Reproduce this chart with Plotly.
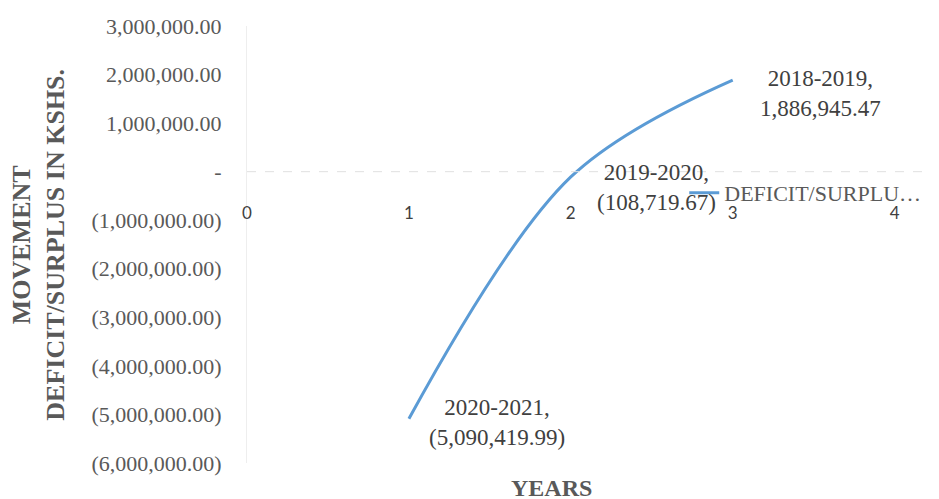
import plotly.graph_objects as go

# ---- data ----
x_vals = [1, 2, 3]
periods = ["2020-2021", "2019-2020", "2018-2019"]
values = [-5090419.99, -108719.67, 1886945.47]
series_name = "DEFICIT/SURPLU…"

y_tickvals = [3000000, 2000000, 1000000, 0, -1000000, -2000000, -3000000,
              -4000000, -5000000, -6000000]
x_tickvals = [0, 1, 2, 3, 4]


def acct(v):
    if v == 0:
        return "-"
    s = f"{abs(v):,.2f}"
    return f"({s})" if v < 0 else s


y_ticktext = [acct(v) for v in y_tickvals]

SERIF = "Liberation Serif"
TXT = "#404040"
GREY = "#595959"
BLUE = "#5b9bd5"

fig = go.Figure()
fig.add_trace(go.Scatter(
    x=x_vals, y=values, mode="lines", name=series_name,
    line=dict(color=BLUE, width=3, shape="spline", smoothing=1.0),
    hoverinfo="skip",
))

# data labels
shifts = [(88, -4), (86, -11), (88, -13)]
for xv, p, v, (dx, dy) in zip(x_vals, periods, values, shifts):
    fig.add_annotation(
        x=xv, y=v, xref="x", yref="y", text=f"{p},<br>{acct(v)}",
        showarrow=False, xshift=dx, yshift=dy, xanchor="center", yanchor="middle",
        font=dict(family=SERIF, size=23, color=TXT), align="center",
    )

# dashed zero line
fig.add_shape(type="line", xref="paper", yref="y", x0=0, x1=1, y0=0, y1=0,
              line=dict(color="#e0e0e0", width=1, dash="dash"))

ymin, ymax = -6000000, 3000000
zero_pos = (0 - ymin) / (ymax - ymin)

fig.update_layout(
    width=939, height=499,
    margin=dict(l=247, r=12, t=26, b=36, autoexpand=False),
    paper_bgcolor="white", plot_bgcolor="white",
    showlegend=True,
    legend=dict(x=0.643, y=0.618, xanchor="left", yanchor="middle",
                bgcolor="rgba(0,0,0,0)",
                font=dict(family=SERIF, size=22, color=GREY)),
    xaxis=dict(range=[0, 4.2], tickvals=x_tickvals, showgrid=False, zeroline=False,
               showline=False, anchor="free", position=zero_pos,
               ticks="", ticklabelstandoff=29,
               tickfont=dict(family="Lato", size=17, color=TXT)),
    yaxis=dict(range=[ymin, ymax], tickvals=y_tickvals, ticktext=y_ticktext,
               showgrid=False, zeroline=False, showline=True, linecolor="#eeeeee",
               linewidth=1, ticks="", ticklabelstandoff=20,
               tickfont=dict(family=SERIF, size=22, color=GREY)),
)

fig.add_annotation(x=-0.307, y=0.5, xref="paper", yref="paper",
                   text="<b>MOVEMENT<br>DEFICIT/SURPLUS IN KSHS.</b>",
                   textangle=-90, showarrow=False, xanchor="center", yanchor="middle",
                   font=dict(family=SERIF, size=26, color=GREY))

fig.add_annotation(x=0.4485, y=-0.057, xref="paper", yref="paper", text="<b>YEARS</b>",
                   showarrow=False, yanchor="middle", xanchor="center",
                   font=dict(family=SERIF, size=24, color=GREY))

fig.write_html("out.html")
